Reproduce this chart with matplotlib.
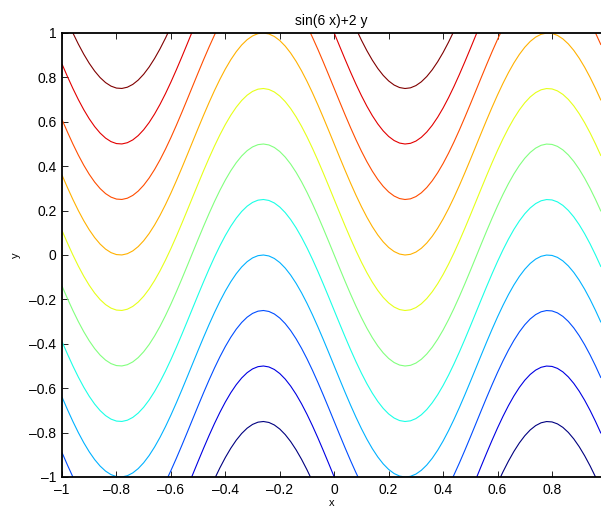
import numpy as np
import matplotlib
matplotlib.use("Agg")
import matplotlib.pyplot as plt
from matplotlib.colors import LinearSegmentedColormap

plt.rcParams['font.family'] = ['Liberation Sans', 'DejaVu Sans']

# grid of the plotted function sin(6 x)+2 y
x_vals = np.arange(-1.0, 0.981, 0.02)
y_vals = np.arange(-1.0, 1.001, 0.02)
levels = [-2.5, -2.0, -1.5, -1.0, -0.5, 0.0, 0.5, 1.0, 1.5, 2.0, 2.5]
x_ticks = [-1, -0.8, -0.6, -0.4, -0.2, 0, 0.2, 0.4, 0.6, 0.8]
y_ticks = [-1, -0.8, -0.6, -0.4, -0.2, 0, 0.2, 0.4, 0.6, 0.8, 1]

X, Y = np.meshgrid(x_vals, y_vals)
Z = np.sin(6 * X) + 2 * Y

# MATLAB style jet (breakpoints at 1/8, 3/8, 5/8, 7/8)
matlab_jet = LinearSegmentedColormap('matlab_jet', {
    'red': [(0, 0, 0), (3 / 8, 0, 0), (5 / 8, 1, 1), (7 / 8, 1, 1), (1, 0.5, 0.5)],
    'green': [(0, 0, 0), (1 / 8, 0, 0), (3 / 8, 1, 1), (5 / 8, 1, 1), (7 / 8, 0, 0), (1, 0, 0)],
    'blue': [(0, 0.5, 0.5), (1 / 8, 1, 1), (3 / 8, 1, 1), (5 / 8, 0, 0), (1, 0, 0)],
})

fig = plt.figure(figsize=(6.01, 5.13), dpi=100)
ax = fig.add_axes([62 / 601, 36 / 513, 539 / 601, 444 / 513])

ax.contour(X, Y, Z, levels=levels, cmap=matlab_jet, vmin=levels[0], vmax=levels[-1],
           linewidths=0.8)

ax.set_xlim(-1, 0.98)
ax.set_ylim(-1, 1)


def fmt(v):
    s = f"{v:g}"
    return s.replace("-", "\u2013")


ax.set_xticks(x_ticks)
ax.set_xticklabels([fmt(v) for v in x_ticks])
ax.set_yticks(y_ticks)
ax.set_yticklabels([fmt(v) for v in y_ticks])
ax.tick_params(direction='in', top=True, right=False, labelsize=10, length=4,
               width=0.6, pad=4)

for side in ['left', 'bottom', 'top']:
    ax.spines[side].set_linewidth(1.3)
ax.spines['right'].set_visible(False)

ax.set_xlabel('x', fontsize=8, labelpad=1)
ax.set_ylabel('y', fontsize=8, labelpad=6)
ax.set_title('sin(6 x)+2 y', fontsize=10, pad=6)

fig.savefig('out.png', dpi=100)
